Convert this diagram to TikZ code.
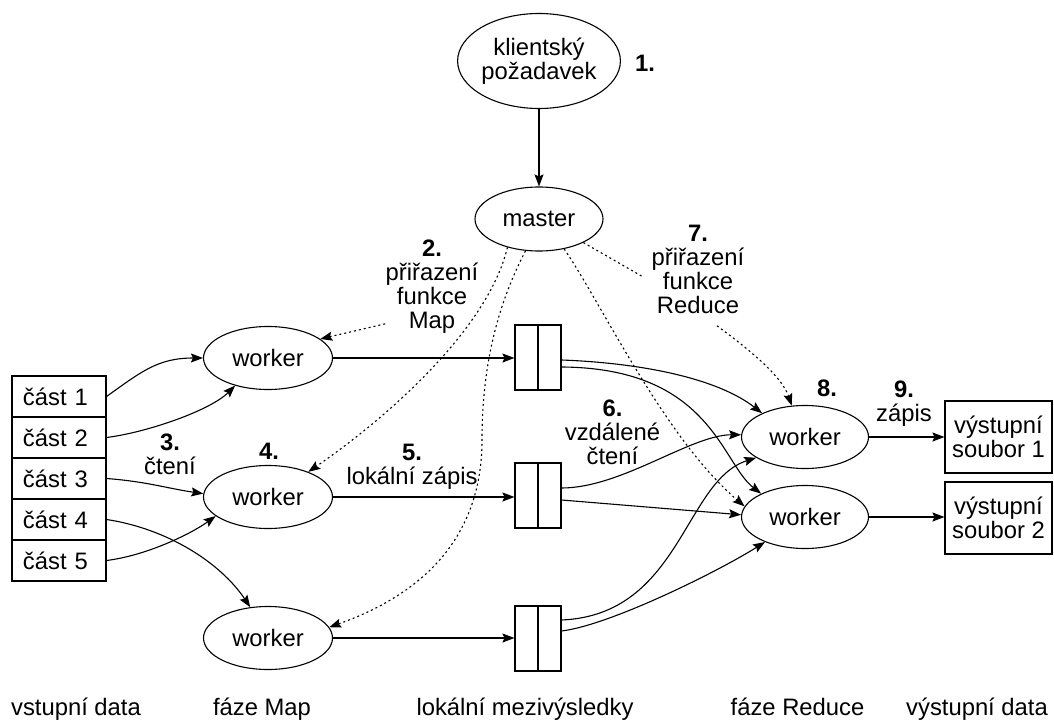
\documentclass[tikz,border=0pt]{standalone}
\usepackage{fontspec}
\setmainfont{Liberation Sans}
\usetikzlibrary{arrows.meta,shapes.geometric}

\begin{document}
\begin{tikzpicture}[x=1pt,y=-1pt,
  every node/.style={font=\fontsize{23.8}{24}\selectfont},
  line width=1.1pt,
  tip/.style={-{Stealth[length=12pt,width=9pt,inset=2pt]}},
  flow/.style={draw,tip},
  ctrl/.style={draw,tip,dash pattern=on 2pt off 3pt},
  dotline/.style={draw,dash pattern=on 2pt off 3pt},
  proc/.style={draw,ellipse,inner sep=0pt,minimum width=129pt,minimum height=63pt},
  part/.style={draw,rectangle,inner xsep=11pt,inner ysep=0pt,text width=72pt,align=left,minimum height=41pt},
  buf/.style={draw,rectangle,inner sep=0pt,minimum width=46pt,minimum height=65pt},
  outfile/.style={draw,rectangle,inner sep=0pt,minimum width=107pt,minimum height=72pt,align=center},
  lbl/.style={inner sep=0pt,align=center},
  phase/.style={inner sep=0pt,anchor=base},
]
\useasboundingbox (0,0) rectangle (1054,722);

% client request and master
\node[proc,minimum width=162pt,minimum height=95pt,align=center] (client) at (539,61) {klientský\\požadavek};
\node[proc,minimum width=128pt,minimum height=64pt] (master) at (539,219) {master};

% map workers
\node[proc] (w1) at (268,358) {worker};
\node[proc] (w2) at (268,497) {worker};
\node[proc] (w3) at (268,638) {worker};

% reduce workers
\node[proc,minimum width=127pt] (r1) at (805,437) {worker};
\node[proc,minimum width=127pt] (r2) at (805,517) {worker};

% input splits
\foreach \i/\y in {1/396.5,2/437.5,3/478.5,4/519.5,5/560.5}
  \node[part] (p\i) at (59,\y) {část \i};

% intermediate buffers
\node[buf] (b1) at (538,357.5) {};
\node[buf] (b2) at (538,495.5) {};
\node[buf] (b3) at (538,638.5) {};
\foreach \b in {b1,b2,b3}
  \draw (\b.north) -- (\b.south);

% output files
\node[outfile] (o1) at (998.5,437) {výstupní\\soubor 1};
\node[outfile] (o2) at (998.5,518) {výstupní\\soubor 2};

% step labels
\node[lbl] (lab1) at (645,63.5) {\textbf{1.}};
\node[lbl] (lab2) at (432,286.5) {\textbf{2.}\\přiřazení\\funkce\\Map};
\node[lbl] (lab3) at (170,454) {\textbf{3.}\\čtení};
\node[lbl] (lab4) at (269,451.5) {\textbf{4.}};
\node[lbl] (lab5) at (412,466.5) {\textbf{5.}\\lokální zápis};
\node[lbl] (lab6) at (612.5,432.5) {\textbf{6.}\\vzdálené\\čtení};
\node[lbl] (lab7) at (698,269) {\textbf{7.}\\přiřazení\\funkce\\Reduce};
\node[lbl] (lab8) at (827,388.5) {\textbf{8.}};
\node[lbl] (lab9) at (904,404) {\textbf{9.}\\zápis};

% phase captions
\node[phase] (ph1) at (76,715) {vstupní data};
\node[phase] (ph2) at (262,715) {fáze Map};
\node[phase] (ph3) at (525,715) {lokální mezivýsledky};
\node[phase] (ph4) at (797.5,715) {fáze Reduce};
\node[phase] (ph5) at (977,715) {výstupní data};

% request
\draw[flow] (client) -- (master);

% reading the splits
\draw[flow] (p1.east) .. controls +(35,-25) and +(-45,0) .. (w1.west);
\draw[flow] (p2.east) .. controls +(40,-5) and +(-25,25) .. (w1.220);
\draw[flow] (p3.east) .. controls +(40,3) and +(-35,-5) .. (w2.177);
\draw[flow] (p4.east) .. controls +(60,9) and +(-30,-45) .. (w3.120);
\draw[flow] (p5.east) .. controls +(40,-5) and +(-25,18) .. (w2.200);

% local writes
\draw[flow] (w1.east) -- (w1.east -| b1.west);
\draw[flow] (w2.east) -- (w2.east -| b2.west);
\draw[flow] (w3.east) -- (w3.east -| b3.west);

% remote reads
\draw[flow] ([yshift=-2.5pt]b1.east) .. controls +(80,3) and +(-45,-35) .. (r1.151);
\draw[flow] ([yshift=-9.5pt]b1.east) .. controls +(149,1) and +(-40,-31) .. (r2.152);
\draw[flow] ([yshift=7.5pt]b2.east) .. controls +(60,0) and +(-50,0) .. (r1.178);
\draw[flow] ([yshift=-4.5pt]b2.east) -- (r2.178);
\draw[flow] ([yshift=18.5pt]b3.east) .. controls +(119,-5) and +(-72,23) .. (r1.203);
\draw[flow] ([yshift=7.5pt]b3.east) .. controls +(49,-6) and +(-46,29) .. (r2.212);

% final writes
\draw[flow] (r1.east) -- (r1.east -| o1.west);
\draw[flow] (r2.east) -- (r2.east -| o2.west);

% master assigning tasks
\draw[ctrl] (master.222) .. controls +(-20,83) and +(76,-52) .. (w2.32);
\draw[ctrl] (master.247) .. controls (500,300) and (482,360) .. (482,440)
                          .. controls (482,540) and (420,595) .. (w3.10);
\draw[ctrl] (master.310) .. controls +(36,52) and +(-80,-68) .. (r2.170);
\draw[dotline,shorten >=9pt] (master.332) -- (lab7.195);
\draw[ctrl] ([xshift=19pt,yshift=-12pt]lab7.south) .. controls +(30,22) and +(-10,-30) .. (r1.113);
\draw[ctrl] ([yshift=10pt]lab2.south west) -- (w1.20);
\end{tikzpicture}
\end{document}
